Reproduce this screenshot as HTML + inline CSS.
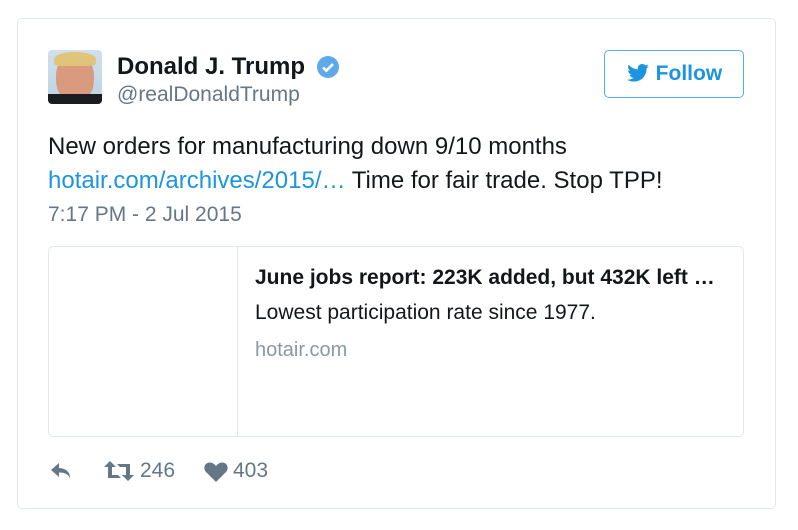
<!DOCTYPE html>
<html><head><meta charset="utf-8"><style>
body{margin:0;width:798px;height:530px;background:#fff;font-family:"Liberation Sans",sans-serif;position:relative;overflow:hidden}
.a{position:absolute;white-space:nowrap}
</style></head><body>
<div class="a" style="left:17px;top:18px;width:757px;height:489px;border:1px solid #e1e8ed;border-radius:5px"></div>
<div class="a" style="left:48px;top:50px;width:54px;height:54px;border-radius:4px;overflow:hidden;background:linear-gradient(#cfe0ec,#bcd3e3)">
 <div style="position:absolute;left:8px;top:4px;width:38px;height:48px;border-radius:45%;background:#d99a7e"></div>
 <div style="position:absolute;left:6px;top:2px;width:42px;height:14px;border-radius:50% 50% 20% 20%;background:#e0c47a"></div>
 <div style="position:absolute;left:0;top:44px;width:54px;height:10px;background:#1b1b22"></div>
</div>
<div class="a" style="left:117px;top:53px;font-size:24px;font-weight:bold;color:#14171a">Donald J. Trump</div>
<svg class="a" style="left:316px;top:55px" width="24" height="24" viewBox="0 0 24 24"><circle cx="12" cy="12" r="11" fill="#5fa9e6"/><path d="M7 12.5l3.3 3.2L17 9" stroke="#fff" stroke-width="2.6" fill="none"/></svg>
<div class="a" style="left:117px;top:83px;font-size:21px;color:#657786">@realDonaldTrump</div>
<div class="a" style="left:604px;top:50px;width:138px;height:46px;border:1px solid #55acee;border-radius:5px;color:#1b95e0;font-size:21px;font-weight:bold;line-height:46px;text-align:center"><svg width="24" height="18" viewBox="0 0 24 20" style="vertical-align:-2px"><path d="M24 2.4c-.9.4-1.8.6-2.8.8 1-.6 1.8-1.6 2.2-2.7-1 .6-2 1-3.1 1.2C19.3.7 18 0 16.6 0c-2.7 0-4.9 2.2-4.9 4.9 0 .4 0 .8.1 1.1C7.7 5.8 4.1 3.900 1.7.9c-.4.7-.7 1.6-.7 2.5 0 1.7.9 3.2 2.2 4.1-.8 0-1.6-.2-2.2-.6v.1c0 2.4 1.7 4.4 3.9 4.8-.4.1-.8.2-1.3.2-.3 0-.6 0-.9-.1.6 2 2.4 3.4 4.6 3.4-1.700 1.3-3.8 2.1-6.1 2.1-.4 0-.8 0-1.2-.1 2.2 1.4 4.8 2.2 7.5 2.2 9.1 0 14-7.5 14-14v-.6c1-.7 1.8-1.6 2.5-2.5z" fill="#1b95e0"/></svg> Follow</div>
<div class="a" style="left:48px;top:130px;font-size:24px;line-height:34px;color:#14171a">New orders for manufacturing down 9/10 months<br><span style="color:#1b95e0">hotair.com/archives/2015/…</span> Time for fair trade. Stop TPP!</div>
<div class="a" style="left:48px;top:203px;font-size:21px;color:#657786">7:17 PM - 2 Jul 2015</div>
<div class="a" style="left:48px;top:246px;width:694px;height:189px;border:1px solid #e1e8ed;border-radius:5px"></div>
<div class="a" style="left:237px;top:247px;width:1px;height:189px;background:#e1e8ed"></div>
<div class="a" style="left:255px;top:266px;font-size:21px;font-weight:bold;color:#14171a">June jobs report: 223K added, but 432K left …</div>
<div class="a" style="left:255px;top:301px;font-size:21px;color:#14171a">Lowest participation rate since 1977.</div>
<div class="a" style="left:255px;top:339px;font-size:20px;color:#8899a6">hotair.com</div>
<svg class="a" style="left:50px;top:461px" width="24" height="20" viewBox="0 0 24 20"><path d="M9 2L1 9l8 7v-4.5c6 0 9 1.5 11 6 0-6-3-10-11-10.5z" fill="#657786"/></svg>
<svg class="a" style="left:104px;top:460px" width="30" height="22" viewBox="0 0 30 22"><path d="M6 1L0 7h4v11h13l-3-3H8V7h4z M24 21l6-6h-4V4H13l3 3h6v8h-4z" fill="#657786"/></svg>
<div class="a" style="left:140px;top:459px;font-size:21px;color:#657786">246</div>
<svg class="a" style="left:204px;top:461px" width="24" height="21" viewBox="0 0 24 21"><path d="M12 21L2 11C-1 8 0 2 5.5 1.5 8.5 1.3 11 3.5 12 5c1-1.5 3.5-3.7 6.5-3.5C24 2 25 8 22 11z" fill="#657786"/></svg>
<div class="a" style="left:233px;top:459px;font-size:21px;color:#657786">403</div>
</body></html>
